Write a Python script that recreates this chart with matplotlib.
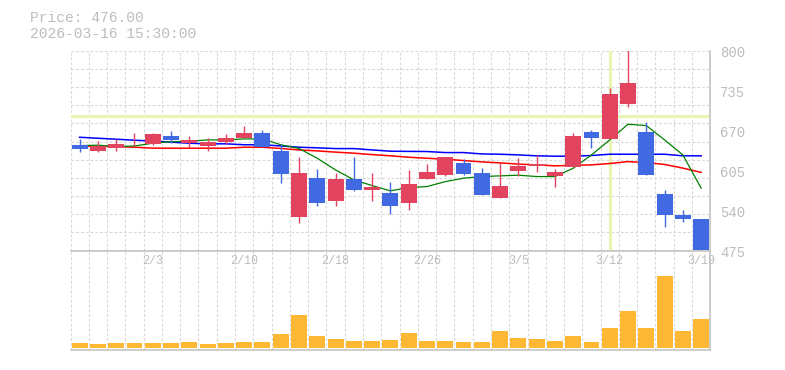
import matplotlib
matplotlib.use('Agg')
from matplotlib import pyplot as plt
from matplotlib import transforms
import numpy as np

# daily candles, 1/28 - 3/19
dates = ['1/28', '1/29', '1/30', '2/2', '2/3', '2/4', '2/5', '2/6', '2/9', '2/10',
         '2/12', '2/13', '2/16', '2/17', '2/18', '2/19', '2/20', '2/24', '2/25', '2/26',
         '2/27', '3/2', '3/3', '3/4', '3/5', '3/6', '3/9', '3/10', '3/11', '3/12',
         '3/13', '3/16', '3/17', '3/18', '3/19']
opens = [646, 637.5, 641.5, 647.5, 647.5, 661.5, 650, 645, 651.5, 658,
         666.5, 637, 530, 593, 556, 591.5, 574, 569, 553, 590.5,
         598.5, 617.5, 601.5, 561, 605, 612.5, 595.5, 611, 668, 657,
         714, 668, 567, 533.5, 526.5]
highs = [656.5, 653, 656.5, 666, 666.5, 669.5, 661.5, 658, 664.5, 677.5,
         671, 648, 627, 608, 601, 627, 601, 586.5, 606, 616,
         627.5, 624, 609.5, 617, 625, 630.5, 607.5, 666.5, 671, 739.5,
         815, 684, 573.5, 541, 526.5]
lows = [634.5, 634.5, 637.5, 644, 647, 650, 641.5, 637.5, 647.5, 658,
        643.5, 584, 520.5, 548, 548, 571, 556, 535, 541.5, 590.5,
        596.5, 598.5, 564.5, 561, 595.5, 603.5, 579, 611, 642, 657,
        709, 597, 514, 522, 475]
closes = [640.5, 645, 649, 649, 664.5, 654, 654, 651.5, 658, 666.5,
          643.5, 600, 601, 553, 591.5, 574, 577.5, 548, 583.5, 603,
          627.5, 600, 565.5, 580, 612.5, 616, 603, 661.5, 658, 729.5,
          747.5, 597, 532, 525.5, 476]

# moving averages
ma_short = [645.6, 646.3, 644, 645, 649.5, 652, 652.5, 654.9, 654.9, 656.5,
            656.5, 647, 641, 625, 606, 590, 580.6, 572, 577.4, 579,
            587, 592.6, 595.3, 596.4, 597.5, 595.3, 595.3, 608.8, 630.5, 654.9,
            680.4, 678.2, 654.9, 630.5, 576.4]
ma_mid = [644.5, 644.5, 644, 643, 641.5, 641.4, 641.4, 641.4, 641.4, 643,
          643, 641, 638.6, 637, 635, 633.3, 631, 629, 626.7, 625.1,
          623.5, 621.3, 619.1, 617.5, 615.5, 614.3, 612.7, 613.5, 614.3, 616.5,
          619.6, 618, 615, 609, 602]
ma_long = [659.2, 657.6, 656, 654.4, 653, 651.2, 649.5, 648.5, 648.5, 647,
           647, 645.1, 643, 642, 640.8, 640.8, 638.6, 636.5, 636.2, 636,
           634.3, 634.3, 632.1, 631.6, 630.5, 629, 628.4, 628.4, 629.5, 631.6,
           631.6, 631.6, 631.6, 629, 629]

volume = [50, 40, 50, 50, 50, 50, 60, 40, 50, 60,
          60, 140, 330, 120, 90, 70, 70, 80, 150, 70,
          70, 60, 60, 170, 100, 90, 70, 120, 60, 200,
          370, 200, 713, 170, 290]

tick_dates = ['2/3', '2/10', '2/18', '2/26', '3/5', '3/12', '3/19']
price_labels = [800, 735, 670, 605, 540, 475]
cursor_date = '3/12'
cursor_price = 693.4
header = ['Price: 476.00', '2026-03-16 15:30:00']

up_color = '#e2445f'
down_color = '#4169e1'
vol_color = '#ffb833'
grid_color = '#d8d8d8'
axis_color = '#c4c4c4'
text_color = '#bdbdbd'
cross_color = '#e6f5b1'
mono = 'Liberation Mono'

n = len(dates)
x = np.arange(n)
bounds = np.arange(n + 1) - 0.5
o = np.array(opens)
c = np.array(closes)
colors = [up_color if cc >= oo else down_color for oo, cc in zip(o, c)]

fig = plt.figure(figsize=(7.85, 3.7), dpi=100)
axv = fig.add_axes([70.5 / 785, 1 - 350.3 / 370, 639.8 / 785, 99.8 / 370])
ax = fig.add_axes([70.5 / 785, 1 - 250.5 / 370, 639.8 / 785, 199.8 / 370])

grid_kw = dict(color=grid_color, linestyle=(0, (2.5, 1.8)), linewidth=0.8)

# price panel
ax.set_xlim(-0.5, n - 0.5)
ax.set_ylim(475, 800)
ax.set_xticks(bounds, minor=True)
ax.set_xticks([dates.index(d) for d in tick_dates])
ax.set_xticklabels(tick_dates, family=mono, fontsize=8.5, color=text_color)
ax.set_yticks(np.linspace(475, 800, 12))
ax.tick_params(axis='both', which='both', length=0)
ax.tick_params(axis='x', pad=3.5)
ax.tick_params(axis='y', labelleft=False)
ax.grid(True, which='minor', axis='x', **grid_kw)
ax.grid(True, which='major', axis='y', **grid_kw)
ax.set_axisbelow(True)

ax.axvline(dates.index(cursor_date), color=cross_color, lw=2.3, zorder=1.5)
ax.axhline(cursor_price, color=cross_color, lw=2.3, zorder=1.5)

ax.plot(x, ma_long, color='#0000ff', lw=1.1, zorder=3)
ax.plot(x, ma_mid, color='#ff0000', lw=1.1, zorder=3)
ax.plot(x, ma_short, color='#008000', lw=0.9, zorder=3)

ax.vlines(x, lows, highs, colors=colors, lw=1.0, zorder=4)
body_h = np.maximum(np.abs(c - o), 1.2)
ax.bar(x, body_h, bottom=np.minimum(o, c), width=0.87, color=colors, linewidth=0, zorder=5)

for s in ['top', 'left']:
    ax.spines[s].set_visible(False)
for s in ['bottom', 'right']:
    ax.spines[s].set_color(axis_color)
    ax.spines[s].set_linewidth(1.2)
    ax.spines[s].set_zorder(6)

lbl_tr = transforms.blended_transform_factory(ax.transAxes, ax.transData) + \
    transforms.ScaledTranslation(9.5 / 100, -2.6 / 100, fig.dpi_scale_trans)
for v in price_labels:
    ax.text(1, v, str(v), transform=lbl_tr, ha='left', va='center',
            family=mono, fontsize=10, color=text_color)

# volume panel
axv.patch.set_visible(False)
axv.set_xlim(-0.5, n - 0.5)
axv.set_ylim(-26, 972)
axv.set_xticks(bounds, minor=True)
axv.set_xticks([])
axv.set_yticks([])
axv.tick_params(which='both', length=0)
axv.grid(True, which='minor', axis='x', **grid_kw)
axv.set_axisbelow(True)
axv.bar(x, volume, width=0.87, color=vol_color, linewidth=0, zorder=3)
for s in ['top', 'left']:
    axv.spines[s].set_visible(False)
for s in ['bottom', 'right']:
    axv.spines[s].set_color(axis_color)
    axv.spines[s].set_linewidth(1.2)

fig.text(30 / 785, 1 - 18 / 370, header[0], ha='left', va='center',
         family=mono, fontsize=10.5, color=text_color)
fig.text(30 / 785, 1 - 33.5 / 370, header[1], ha='left', va='center',
         family=mono, fontsize=10.5, color=text_color)

fig.savefig('out.png', dpi=100)
